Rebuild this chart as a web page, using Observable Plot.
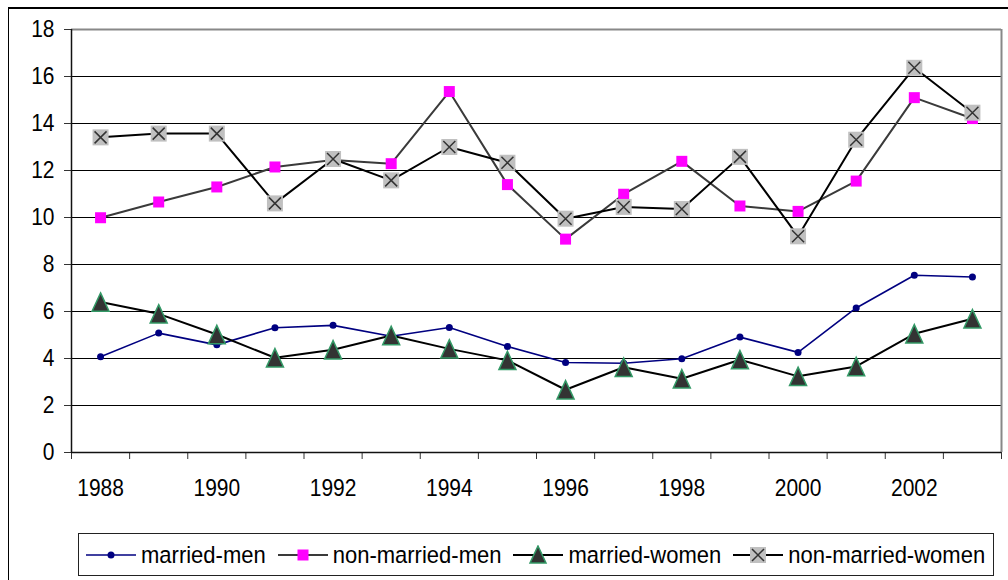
<!DOCTYPE html>
<html>
<head>
<meta charset="utf-8">
<script src="https://cdn.jsdelivr.net/npm/d3@7"></script>
<script src="https://cdn.jsdelivr.net/npm/@observablehq/plot@0.6"></script>
<style>
  html, body { margin: 0; padding: 0; background: #fff; width: 1008px; height: 580px; overflow: hidden; }
  #frame { position: absolute; left: 8px; top: 7px; width: 1100px; height: 700px; border-left: 1.5px solid #000; border-top: 2px solid #000; }
  #chart { position: absolute; left: 0; top: 0; }
  #legend { position: absolute; left: 78px; top: 533px; width: 916px; height: 43px; border: 1.5px solid #222; box-sizing: border-box;
            display: flex; align-items: center; font-family: "Liberation Sans", Arial, sans-serif; font-size: 22px; color: #000; padding-left: 7px; white-space: nowrap; }
  #legend .item { display: flex; align-items: center; margin-right: 12px; flex-shrink: 0; }
  #legend svg { margin-right: 5px; flex-shrink: 0; }
  #legend span { display: inline-block; transform: scaleY(1.12); }
</style>
</head>
<body>
<div id="frame"></div>
<div id="chart"></div>
<div id="legend"></div>
<script>
const years = [1988,1989,1990,1991,1992,1993,1994,1995,1996,1997,1998,1999,2000,2001,2002,2003];
const marriedMen      = [4.07, 5.08, 4.58, 5.31, 5.41, 4.95, 5.32, 4.51, 3.83, 3.80, 3.99, 4.91, 4.26, 6.15, 7.54, 7.47];
const nonMarriedMen   = [9.99, 10.66, 11.30, 12.15, 12.45, 12.29, 15.36, 11.40, 9.08, 10.99, 12.39, 10.49, 10.26, 11.55, 15.10, 14.21];
const marriedWomen    = [6.40, 5.90, 5.02, 4.03, 4.37, 4.98, 4.41, 3.92, 2.67, 3.63, 3.14, 3.95, 3.24, 3.66, 5.05, 5.69];
const nonMarriedWomen = [13.41, 13.57, 13.57, 10.60, 12.49, 11.58, 13.00, 12.33, 9.95, 10.45, 10.36, 12.58, 9.20, 13.31, 16.37, 14.46];
const seriesNames = ["married-men", "non-married-men", "married-women", "non-married-women"];
const yTicks = [0, 2, 4, 6, 8, 10, 12, 14, 16, 18];
const yearLabels = [1988, 1990, 1992, 1994, 1996, 1998, 2000, 2002];

const values = [marriedMen, nonMarriedMen, marriedWomen, nonMarriedWomen];
const data = seriesNames.flatMap((s, i) => years.map((yr, j) => ({series: s, year: yr, value: values[i][j]})));
const bySeries = s => data.filter(d => d.series === s);
const boundaries = [...years.map(y => y - 0.5), years[years.length - 1] + 0.5];

const triSym = {draw(ctx, size) { const w = Math.sqrt(size); const h = w * 1.08;
  ctx.moveTo(0, -h / 2); ctx.lineTo(w / 2, h / 2); ctx.lineTo(-w / 2, h / 2); ctx.closePath(); }};
const sqSym = {draw(ctx, size) { const s = Math.sqrt(size) / 2; ctx.rect(-s, -s, 2 * s, 2 * s); }};
const xSym = {draw(ctx, size) { const s = Math.sqrt(size) / 2;
  ctx.moveTo(-s, -s); ctx.lineTo(s, s); ctx.moveTo(s, -s); ctx.lineTo(-s, s); }};
const rFor = w => w / Math.sqrt(Math.PI);

const H = 522;
const FONT = '"Liberation Sans", Arial, sans-serif';
const chart = Plot.plot({
  width: 1008,
  height: H,
  marginLeft: 71,
  marginRight: 7,
  marginTop: 29,
  marginBottom: H - 452,
  style: {fontFamily: FONT, fontSize: "21px", color: "#000", background: "transparent", overflow: "visible"},
  x: {type: "linear", domain: [years[0] - 0.5, years[years.length - 1] + 0.5]},
  y: {domain: [0, 18]},
  marks: [
    Plot.ruleY(yTicks.filter(t => t > 0 && t < 18), {stroke: "#000", strokeWidth: 1}),
    Plot.ruleY([18], {stroke: "#888", strokeWidth: 2}),
    Plot.ruleX([years[years.length - 1] + 0.5], {stroke: "#888", strokeWidth: 2}),
    Plot.axisY({ticks: yTicks, tickSize: 7, tickPadding: 10, tickFormat: d => String(d), stroke: "#333", fill: "#000", fontSize: 21, label: null}),
    Plot.axisX({ticks: boundaries, tickSize: 7, tickFormat: () => "", stroke: "#333", label: null}),
    Plot.axisX({ticks: yearLabels, tickSize: 0, tickPadding: 27, tickFormat: d => String(d), fill: "#000", fontSize: 21, label: null}),
    Plot.ruleX([years[0] - 0.5], {stroke: "#111", strokeWidth: 1.5}),
    Plot.ruleY([0], {stroke: "#111", strokeWidth: 1.5}),
    Plot.line(bySeries("married-men"), {x: "year", y: "value", stroke: "#000080", strokeWidth: 1.6}),
    Plot.line(bySeries("non-married-men"), {x: "year", y: "value", stroke: "#3a3a3a", strokeWidth: 2}),
    Plot.line(bySeries("married-women"), {x: "year", y: "value", stroke: "#000", strokeWidth: 2}),
    Plot.line(bySeries("non-married-women"), {x: "year", y: "value", stroke: "#000", strokeWidth: 2}),
    Plot.dot(bySeries("married-men"), {x: "year", y: "value", r: 3.5, fill: "#000080", stroke: "none"}),
    Plot.dot(bySeries("non-married-men"), {x: "year", y: "value", symbol: sqSym, r: rFor(11), fill: "#ff00ff", stroke: "none"}),
    Plot.dot(bySeries("married-women"), {x: "year", y: "value", symbol: triSym, r: rFor(17), fill: "#333", stroke: "#339966", strokeWidth: 1.5}),
    Plot.dot(bySeries("non-married-women"), {x: "year", y: "value", symbol: sqSym, r: rFor(16), fill: "#c0c0c0", stroke: "none"}),
    Plot.dot(bySeries("non-married-women"), {x: "year", y: "value", symbol: xSym, r: rFor(12), fill: "none", stroke: "#333", strokeWidth: 1.5})
  ]
});
// slight vertical stretch of tick labels, as in the original picture
chart.querySelectorAll("text").forEach(t => {
  const tr = t.getAttribute("transform") || "";
  t.setAttribute("transform", (tr + " scale(1,1.12)").trim());
});
document.getElementById("chart").appendChild(chart);

const legendSymbols = {
  "married-men": '<line x1="0" y1="10" x2="50" y2="10" stroke="#000080" stroke-width="1.6"/><circle cx="25" cy="10" r="3.5" fill="#000080"/>',
  "non-married-men": '<line x1="0" y1="10" x2="50" y2="10" stroke="#3a3a3a" stroke-width="2"/><rect x="19.5" y="4.5" width="11" height="11" fill="#ff00ff"/>',
  "married-women": '<line x1="0" y1="10" x2="50" y2="10" stroke="#000" stroke-width="2"/><path d="M25,1 L33,18 L17,18 Z" fill="#333" stroke="#339966" stroke-width="1.5"/>',
  "non-married-women": '<line x1="0" y1="10" x2="50" y2="10" stroke="#000" stroke-width="2"/><rect x="17" y="2" width="16" height="16" fill="#c0c0c0"/><path d="M19,4 L31,16 M31,4 L19,16" stroke="#333" stroke-width="1.5"/>'
};
const legend = d3.select("#legend");
seriesNames.forEach(s => {
  const item = legend.append("div").attr("class", "item");
  item.append("svg").attr("width", 50).attr("height", 20).html(legendSymbols[s]);
  item.append("span").text(s);
});
</script>
</body>
</html>
